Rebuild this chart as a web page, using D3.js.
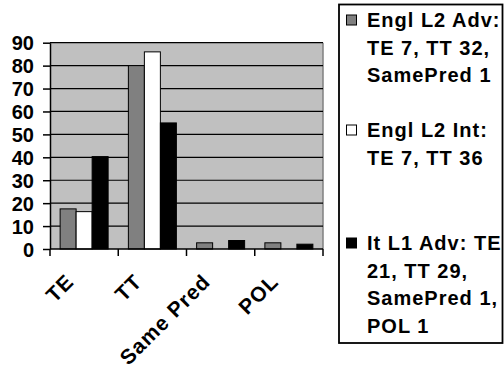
<!DOCTYPE html>
<html><head><meta charset="utf-8">
<script src="https://cdn.jsdelivr.net/npm/d3@7"></script>
<style>
html,body{margin:0;padding:0;background:#fff;}
svg{display:block;font-family:"Liberation Sans",Arial,sans-serif;font-weight:bold;}
</style></head>
<body>
<svg id="chart" width="504" height="373"></svg>
<script>
const categories = ["TE", "TT", "Same Pred", "POL"];
const seriesNames = ["Engl L2 Adv", "Engl L2 Int", "It L1 Adv"];
const englL2Adv = [17.5, 80, 2.7, 2.7];
const englL2Int = [16.3, 86, 0, 0];
const itL1Adv = [40.3, 55, 3.7, 2.1];
const yTicks = [0, 10, 20, 30, 40, 50, 60, 70, 80, 90];
const legendLines = [
  ["Engl L2 Adv:", "TE 7, TT 32,", "SamePred 1"],
  ["Engl L2 Int:", "TE 7, TT 36"],
  ["It L1 Adv: TE", "21, TT 29,", "SamePred 1,", "POL 1"]
];

const seriesValues = [englL2Adv, englL2Int, itL1Adv];
const colors = ["#808080", "#ffffff", "#000000"];

const svg = d3.select("#chart");
const L = 50, R = 323, T = 42.7, B = 249;

const x = d3.scaleBand().domain(categories).range([L, R]).paddingInner(0).paddingOuter(0);
const x1 = d3.scaleBand().domain(d3.range(3)).range([0, 48]);
const y = d3.scaleLinear().domain([0, 90]).range([B, T]);

// plot background
svg.append("rect").attr("x", L).attr("y", T).attr("width", R - L).attr("height", B - T)
  .attr("fill", "#c0c0c0");
svg.append("line").attr("x1", R).attr("x2", R).attr("y1", T).attr("y2", B)
  .attr("stroke", "#808080").attr("stroke-width", 1.5);

// gridlines
svg.append("g").selectAll("line").data(yTicks.filter(d => d > 0)).join("line")
  .attr("x1", L).attr("x2", R)
  .attr("y1", d => y(d)).attr("y2", d => y(d))
  .attr("stroke", "#000").attr("stroke-width", 1.2);

// bars
const groupOffset = (x.bandwidth() - 48) / 2;
const g = svg.append("g");
categories.forEach((c, ci) => {
  seriesValues.forEach((vals, si) => {
    const v = vals[ci];
    if (v <= 0) return;
    g.append("rect")
      .attr("x", x(c) + groupOffset + x1(si))
      .attr("y", y(v))
      .attr("width", x1.bandwidth())
      .attr("height", B - y(v))
      .attr("fill", colors[si])
      .attr("stroke", "#000").attr("stroke-width", 1);
  });
});

// y axis
const yAxis = d3.axisLeft(y).tickValues(yTicks).tickSize(7).tickSizeOuter(0).tickPadding(9);
const ya = svg.append("g").attr("transform", `translate(${L},0)`).call(yAxis);
ya.attr("font-size", null).attr("font-family", null);
ya.select(".domain").attr("stroke", "#000").attr("stroke-width", 1.5);
ya.selectAll(".tick line").attr("stroke", "#000").attr("stroke-width", 1.5);
ya.selectAll(".tick text").attr("font-size", 20).attr("font-weight", "bold")
  .attr("font-family", "Liberation Sans, Arial, sans-serif").attr("fill", "#000")
  .attr("dy", "0.36em");

// x axis
svg.append("line").attr("x1", L).attr("x2", R).attr("y1", B).attr("y2", B)
  .attr("stroke", "#000").attr("stroke-width", 1.5);
const bounds = categories.map(c => x(c)).concat([R]);
svg.append("g").selectAll("line").data(bounds).join("line")
  .attr("x1", d => d).attr("x2", d => d).attr("y1", B).attr("y2", B + 7)
  .attr("stroke", "#000").attr("stroke-width", 1.5);

svg.append("g").selectAll("text").data(categories).join("text")
  .attr("transform", d => `translate(${x(d) + x.bandwidth() / 2 - 9},${B + 34}) rotate(-45)`)
  .attr("text-anchor", "end")
  .attr("font-size", 21).attr("font-weight", "bold").attr("letter-spacing", 1)
  .attr("fill", "#000")
  .text(d => d);

// legend
svg.append("rect").attr("x", 339).attr("y", 4.5).attr("width", 163.5).attr("height", 338.5)
  .attr("fill", "#fff").attr("stroke", "#000").attr("stroke-width", 1.8);
const groupTops = [20, 130, 243];
legendLines.forEach((lines, gi) => {
  svg.append("rect").attr("x", 346.5).attr("y", groupTops[gi] - 5).attr("width", 10).attr("height", 10)
    .attr("fill", colors[gi]).attr("stroke", "#000").attr("stroke-width", 1);
  lines.forEach((t, li) => {
    svg.append("text").attr("x", 367).attr("y", groupTops[gi] + li * 27.5 + 7.2)
      .attr("font-size", 20).attr("font-weight", "bold").attr("letter-spacing", 1)
      .attr("fill", "#000").text(t);
  });
});
</script>
</body></html>
